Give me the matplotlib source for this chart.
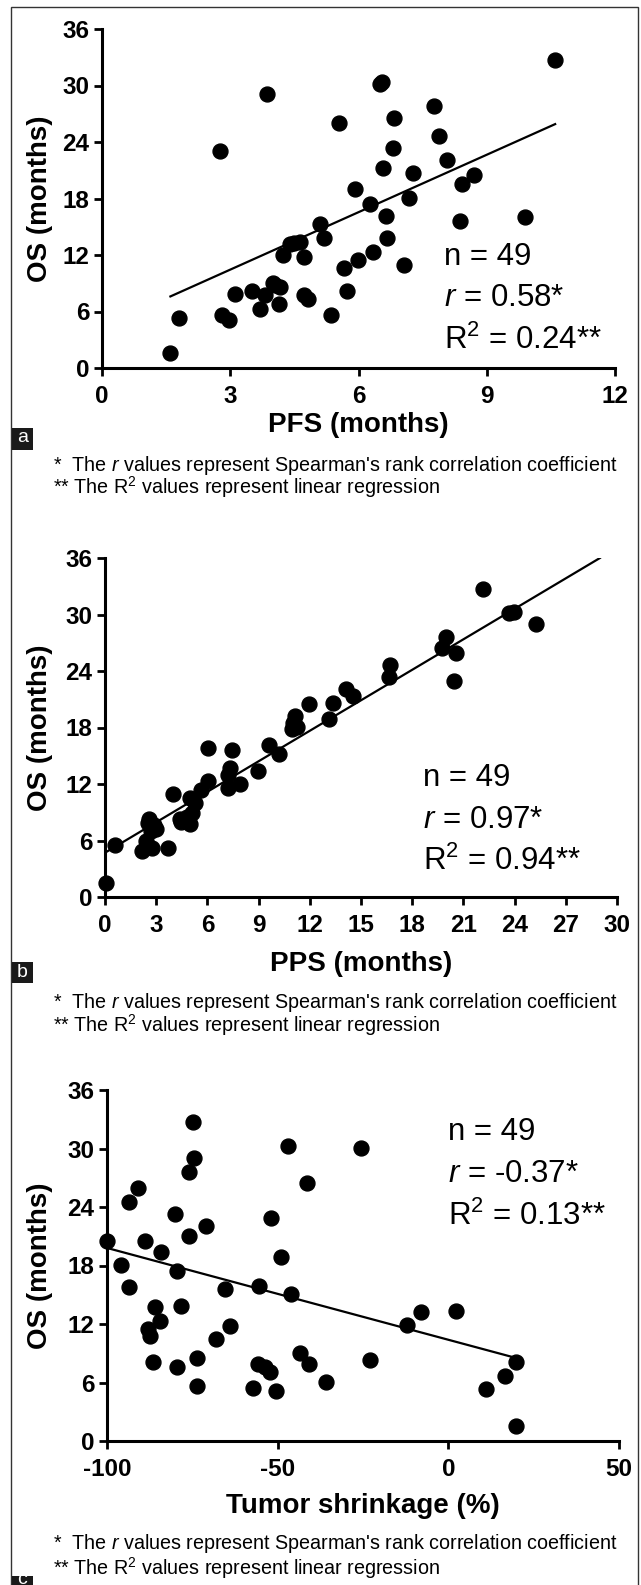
import numpy as np
import matplotlib
matplotlib.use('Agg')
import matplotlib.pyplot as plt
from matplotlib.patches import Rectangle

plt.rcParams['font.family'] = ['Liberation Sans', 'DejaVu Sans']
plt.rcParams['mathtext.fontset'] = 'custom'
plt.rcParams['mathtext.rm'] = 'Liberation Sans'
plt.rcParams['mathtext.it'] = 'Liberation Sans:italic'
plt.rcParams['mathtext.bf'] = 'Liberation Sans:bold'
plt.rcParams['axes.unicode_minus'] = False

# Panel a: PFS vs OS
pfs = [1.58, 1.79, 2.75, 2.8, 2.96, 3.1, 3.5, 3.7, 3.87, 3.82,
       4.0, 4.16, 4.05, 4.14, 4.23, 4.4, 4.5, 4.64, 4.73, 4.73,
       4.83, 5.1, 5.19, 5.35, 5.54, 5.67, 5.72, 5.91, 5.98, 6.28,
       6.33, 6.55, 6.5, 6.58, 6.64, 6.66, 6.81, 6.84, 7.06, 7.17,
       7.27, 7.77, 7.89, 8.06, 8.38, 8.41, 8.7, 9.9, 10.59]
os_a = [1.6, 5.3, 23.0, 5.65, 5.1, 7.9, 8.2, 6.25, 29.1, 7.8,
        9.0, 8.6, 8.8, 6.8, 12.0, 13.2, 13.3, 13.4, 11.8, 7.8,
        7.3, 15.3, 13.8, 5.65, 26.0, 10.6, 8.2, 19.0, 11.5, 17.4,
        12.35, 30.4, 30.2, 21.2, 16.1, 13.8, 23.4, 26.6, 10.9, 18.1,
        20.7, 27.8, 24.6, 22.1, 15.6, 19.5, 20.5, 16.0, 32.7]
fit_a_x = [1.6, 10.6]
fit_a_y = [7.6, 25.9]

# Panel b: PPS vs OS
pps = [0.07, 0.6, 2.16, 2.4, 2.56, 2.7, 2.76, 2.88, 3.0, 3.67,
       4.0, 4.4, 4.43, 4.79, 4.96, 5.1, 4.96, 5.3, 5.63, 6.06,
       6.06, 7.19, 7.2, 7.31, 7.43, 7.9, 8.94, 9.59, 10.2, 10.97,
       11.0, 11.15, 11.26, 11.98, 13.13, 13.35, 14.14, 14.55, 16.65, 16.7,
       19.72, 19.96, 20.44, 20.54, 22.17, 23.7, 23.96, 25.23, 2.5]
os_b = [1.44, 5.5, 4.9, 6.0, 8.3, 7.0, 5.2, 7.6, 7.2, 5.2,
        10.9, 8.3, 8.0, 8.45, 7.7, 8.9, 10.5, 10.0, 11.4, 12.3,
        15.8, 11.6, 13.0, 13.75, 15.6, 12.0, 13.4, 16.1, 15.2, 17.8,
        18.5, 19.25, 18.1, 20.5, 18.95, 20.6, 22.1, 21.3, 23.4, 24.6,
        26.45, 27.6, 22.96, 25.96, 32.7, 30.2, 30.3, 29.0, 7.9]
fit_b_x = [0, 29]
fit_b_y = [4.7, 36]

# Panel c: tumor shrinkage vs OS
shrink = [-100, -96, -93.5, -93.5, -90.9, -88.9, -87.9, -87.3, -86.5, -85.9,
          -84.4, -84.3, -80.1, -79.6, -79.6, -78.4, -76.0, -76.0, -74.5, -74.9,
          -73.5, -73.5, -70.9, -68.1, -65.5, -64.0, -57.1, -55.7, -55.6, -53.8,
          -52.3, -52.0, -50.4, -49.0, -46.9, -46.0, -43.6, -41.3, -40.7, -35.9,
          -25.6, -23.0, -12.0, -8.0, 2.2, 10.9, 16.5, 19.8, 19.8]
os_c = [20.5, 18.1, 15.8, 24.5, 25.9, 20.5, 11.5, 10.8, 8.1, 13.7,
        12.3, 19.4, 23.3, 17.4, 7.6, 13.8, 21.0, 27.6, 29.0, 32.7,
        8.5, 5.6, 22.1, 10.5, 15.6, 11.8, 5.4, 7.9, 15.9, 7.6,
        7.1, 22.9, 5.1, 18.9, 30.3, 15.1, 9.0, 26.5, 7.9, 6.1,
        30.1, 8.3, 11.9, 13.2, 13.3, 5.3, 6.7, 8.1, 1.5]
fit_c_x = [-100, 20]
fit_c_y = [19.8, 8.5]

y_ticks = [0, 6, 12, 18, 24, 30, 36]

W, H = 641, 1585
fig = plt.figure(figsize=(W / 100, H / 100), dpi=100)

def px_axes(left, right, top, bottom):
    return fig.add_axes([left / W, 1 - bottom / H, (right - left) / W, (bottom - top) / H])

def style(ax, xlim, xticks):
    ax.set_xlim(*xlim)
    ax.set_ylim(0, 36)
    ax.set_xticks(xticks)
    ax.set_yticks(y_ticks)
    for s in ['top', 'right']:
        ax.spines[s].set_visible(False)
    for s in ['left', 'bottom']:
        ax.spines[s].set_linewidth(2.2)
    ax.tick_params(axis='both', direction='out', length=6, width=2, labelsize=17.5)
    ax.tick_params(axis='x', pad=6)
    ax.tick_params(axis='y', pad=3)
    for lab in ax.get_xticklabels() + ax.get_yticklabels():
        lab.set_fontweight('bold')
    ax.patch.set_alpha(0)

def stats(ax, x, ys, r, r2):
    lines = ['n = 49', '$r$ = ' + r + '*', 'R$^2$ = ' + r2 + '**']
    for y, t in zip(ys, lines):
        ax.text(x, y, t, transform=ax.transAxes, fontsize=22.5, ha='left', va='center')

def footnote(y1, y2):
    fig.text(53 / W, 1 - y1 / H, "*  The $r$ values represent Spearman's rank correlation coefficient",
             fontsize=14.2, va='baseline')
    fig.text(53 / W, 1 - y2 / H, "** The R$^2$ values represent linear regression",
             fontsize=14.2, va='baseline')

def panel_label(letter, top, bottom, ty):
    fig.patches.append(Rectangle((12 / W, 1 - bottom / H), 21 / W, (bottom - top) / H,
                                 transform=fig.transFigure, facecolor='#1a1a1a', edgecolor='none'))
    fig.text(22.5 / W, 1 - ty / H, letter, color='white', fontsize=14,
             ha='center', va='center')

# outer frame
fig.patches.append(Rectangle((11 / W, -0.01), 627 / W, 1 - 7 / H + 0.01, transform=fig.transFigure,
                             facecolor='none', edgecolor='#333333', linewidth=1))

# a
ax = px_axes(102, 615, 29, 368)
ax.scatter(pfs, os_a, s=115, color='black', clip_on=False, zorder=3)
ax.plot(fit_a_x, fit_a_y, color='black', lw=1.6)
style(ax, (0, 12), [0, 3, 6, 9, 12])
ax.text(0.5, -0.168, 'PFS (months)', transform=ax.transAxes, fontsize=20, fontweight='bold',
        ha='center', va='center')
ax.text(-0.12, 0.5, 'OS (months)', transform=ax.transAxes, fontsize=20, fontweight='bold',
        ha='center', va='center', rotation=90)
stats(ax, 0.667, [0.327, 0.206, 0.083], '0.58', '0.24')
panel_label('a', 428, 450, 438)
footnote(471, 494)

# b
ax = px_axes(105, 617, 558, 897)
ax.scatter(pps, os_b, s=115, color='black', clip_on=False, zorder=3)
ax.plot(fit_b_x, fit_b_y, color='black', lw=1.6)
style(ax, (0, 30), list(range(0, 31, 3)))
ax.text(0.5, -0.198, 'PPS (months)', transform=ax.transAxes, fontsize=20, fontweight='bold',
        ha='center', va='center')
ax.text(-0.126, 0.5, 'OS (months)', transform=ax.transAxes, fontsize=20, fontweight='bold',
        ha='center', va='center', rotation=90)
stats(ax, 0.621, [0.351, 0.227, 0.106], '0.97', '0.94')
panel_label('b', 962, 983, 972)
footnote(1008, 1032)

# c
ax = px_axes(107, 619, 1090, 1441)
ax.scatter(shrink, os_c, s=115, color='black', clip_on=False, zorder=3)
ax.plot(fit_c_x, fit_c_y, color='black', lw=1.6)
style(ax, (-100, 50), [-100, -50, 0, 50])
ax.text(0.5, -0.185, 'Tumor shrinkage (%)', transform=ax.transAxes, fontsize=20, fontweight='bold',
        ha='center', va='center')
ax.text(-0.13, 0.5, 'OS (months)', transform=ax.transAxes, fontsize=20, fontweight='bold',
        ha='center', va='center', rotation=90)
stats(ax, 0.666, [0.880, 0.761, 0.641], '-0.37', '0.13')
panel_label('c', 1576, 1595, 1579)
footnote(1549, 1575)

fig.savefig('out.png', dpi=100)
